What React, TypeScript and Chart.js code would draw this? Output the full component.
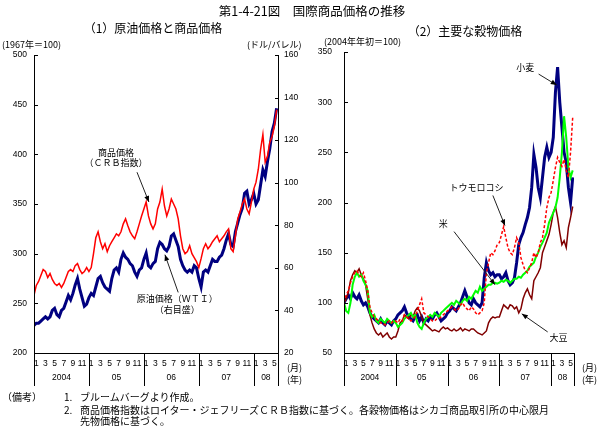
import React, { useEffect, useRef } from "react";
import { Chart, registerables } from "chart.js";

Chart.register(...registerables);

// ---------- time axis (months since Jan 2004, one reading every half month) ----------
const X_MAX = 53.3;
const YEAR_LABELS = ["2004", "05", "06", "07", "08"];
const MONTH_LABELS = ["1", "3", "5", "7", "9", "11"];

// ---------- panel (1): crude oil & commodity prices ----------
const LEFT_TICKS_1 = [200, 250, 300, 350, 400, 450, 500];
const RIGHT_TICKS_1 = [20, 40, 60, 80, 100, 120, 140, 160];

const crb = [
  258, 268, 272, 278, 284, 282, 276, 280, 274, 270, 268, 270, 266, 270, 276, 282, 284, 282, 288, 290, 284, 280, 282, 286,
  282, 286, 300, 316, 322, 312, 305, 310, 302, 308, 312, 316, 320, 318, 322, 330, 335, 328, 322, 318, 315, 322, 330, 338,
  345, 352, 338, 330, 325, 330, 345, 352, 365, 348, 338, 345, 355, 350, 345, 335, 318, 305, 300, 302, 308, 300, 296, 292,
  286, 295, 305, 310, 305, 308, 312, 315, 318, 312, 315, 318, 322, 325, 305, 302, 318, 335, 342, 350, 355, 345, 340, 352,
  365, 372, 385, 405, 420, 392, 398, 412, 418, 428, 445,
];

const wti = [
  33, 34, 34, 35, 36, 37, 36, 37, 40, 41, 38, 37, 40, 41, 44, 47, 45, 48, 52, 55, 50, 46, 42, 43,
  46, 48, 47, 51, 55, 56, 53, 51, 50, 49, 55, 59, 60, 58, 64, 67, 65, 64, 62, 61, 58, 56, 59, 60,
  64, 67, 61, 60, 62, 63, 69, 72, 71, 69, 68, 70, 75, 76, 73, 70, 64, 61, 59, 58, 59, 58, 61, 60,
  55, 51, 58, 59, 58, 61, 64, 63, 63, 65, 66, 69, 73, 76, 71, 70, 77, 81, 85, 88, 95, 96, 90, 92,
  95, 90, 92, 99, 106, 103, 110, 116, 124, 128, 135,
];

// ---------- panel (2): major grain prices (start of 2004 = 100) ----------
const LEFT_TICKS_2 = [50, 100, 150, 200, 250, 300, 350];

const wheat = [
  100, 104, 108, 104, 110, 106, 104, 108, 102, 98, 100, 96, 90, 86, 84, 82, 80, 84, 80, 78, 82, 80, 78, 82,
  84, 88, 90, 92, 96, 90, 86, 84, 82, 86, 88, 82, 86, 80, 84, 82, 86, 84, 88, 90, 86, 82, 84, 86,
  90, 92, 96, 94, 92, 96, 100, 106, 112, 106, 100, 98, 104, 100, 98, 96, 100, 125, 140, 132, 128, 130, 126, 128,
  128, 124, 126, 130, 122, 118, 120, 125, 140, 158, 165, 170, 178, 185, 195, 215, 248, 235, 215, 205, 225, 245, 255, 245,
  250, 265, 310, 335, 300, 275, 250, 240, 215, 200, 225,
];

const corn = [
  100, 108, 112, 120, 126, 130, 132, 128, 126, 130, 122, 112, 96, 90, 86, 84, 82, 80, 80, 78, 80, 82, 80, 82,
  82, 80, 84, 82, 88, 86, 84, 82, 84, 86, 92, 98, 104, 90, 88, 86, 84, 82, 82, 84, 84, 86, 88, 90,
  92, 94, 96, 94, 92, 94, 98, 100, 96, 94, 92, 96, 94, 90, 88, 90, 92, 100, 130, 140, 150, 148, 152, 158,
  160, 168, 176, 165, 155, 150, 148, 155, 165, 160, 145, 138, 132, 130, 135, 140, 150, 145, 150, 160, 165, 178, 195, 205,
  210, 222, 235, 245, 240, 236, 243, 232, 225, 250, 285,
];

const rice = [
  100, 92, 90, 100, 118, 126, 130, 126, 128, 122, 118, 112, 90, 86, 88, 82, 80, 84, 82, 80, 84, 82, 80, 82,
  80, 76, 78, 80, 84, 86, 88, 90, 86, 88, 80, 76, 74, 80, 84, 86, 88, 86, 90, 88, 86, 90, 92, 94,
  96, 98, 100, 98, 102, 100, 98, 102, 104, 102, 106, 104, 108, 112, 110, 116, 112, 114, 116, 118, 118, 120, 120, 119,
  120, 122, 121, 123, 122, 120, 122, 124, 124, 126, 125, 128, 130, 132, 136, 138, 140, 146, 150, 156, 160, 165, 170, 180,
  185, 190, 195, 205, 225, 250, 286, 265, 235, 225, 232,
];

const soybean = [
  100, 104, 110, 122, 128, 132, 130, 134, 128, 124, 118, 104, 88, 80, 74, 70, 68, 70, 66, 68, 70, 66, 64, 66,
  66, 72, 80, 82, 88, 86, 84, 88, 86, 92, 95, 92, 86, 80, 78, 76, 74, 72, 73, 72, 71, 74, 76, 74,
  75, 73, 72, 74, 72, 73, 75, 72, 74, 73, 72, 74, 74, 72, 70, 69, 68, 70, 72, 80, 84, 86, 85, 86,
  86, 92, 98, 96, 94, 98, 97, 94, 96, 90, 94, 104, 110, 114, 108, 104, 122, 126, 130, 135, 150, 156, 162, 168,
  178, 190, 196, 185, 170, 158, 162, 155, 175, 185, 196,
];

// ---------- annotations (in data units: [month, value on left axis]) ----------
type Note = { lines: string[]; at: [number, number]; step: number; arrow: [[number, number], [number, number]] };

const NOTES_1: Note[] = [
  { lines: ["商品価格", "（ＣＲＢ指数）"], at: [17.9, 402], step: 10, arrow: [[22.5, 382], [25.1, 352]] },
  { lines: ["原油価格（ＷＴＩ）", "（右目盛）"], at: [31.3, 255], step: 11, arrow: [[31.5, 261], [28.6, 299]] },
];

const NOTES_2: Note[] = [
  { lines: ["小麦"], at: [42.0, 334], step: 0, arrow: [[45.1, 328], [49.3, 317]] },
  { lines: ["トウモロコシ"], at: [30.7, 215], step: 0, arrow: [[34.5, 207], [37.3, 177]] },
  { lines: ["米"], at: [23.0, 179], step: 0, arrow: [[25.5, 171], [35.0, 118]] },
  { lines: ["大豆"], at: [49.7, 65], step: 0, arrow: [[47.2, 71], [41.2, 89]] },
];

const FONT_NUM = '8.5px "Liberation Sans", Arial, sans-serif';
const FONT_JP = '9px "Noto Sans CJK JP", sans-serif';

const toXY = (arr: number[]) => arr.map((v, i) => ({ x: i / 2, y: v }));

function vline(ctx: CanvasRenderingContext2D, x: number, y1: number, y2: number) {
  const xx = Math.round(x) + 0.5;
  ctx.beginPath();
  ctx.moveTo(xx, y1);
  ctx.lineTo(xx, y2);
  ctx.stroke();
}
function hline(ctx: CanvasRenderingContext2D, x1: number, x2: number, y: number) {
  const yy = Math.round(y) + 0.5;
  ctx.beginPath();
  ctx.moveTo(x1, yy);
  ctx.lineTo(x2, yy);
  ctx.stroke();
}

function drawArrow(ctx: CanvasRenderingContext2D, x1: number, y1: number, x2: number, y2: number) {
  ctx.beginPath();
  ctx.moveTo(x1, y1);
  ctx.lineTo(x2, y2);
  ctx.stroke();
  const ang = Math.atan2(y2 - y1, x2 - x1);
  const L = 6;
  const W = 2.5;
  const bx = x2 - L * Math.cos(ang);
  const by = y2 - L * Math.sin(ang);
  ctx.beginPath();
  ctx.moveTo(x2, y2);
  ctx.lineTo(bx + W * Math.sin(ang), by - W * Math.cos(ang));
  ctx.lineTo(bx - W * Math.sin(ang), by + W * Math.cos(ang));
  ctx.closePath();
  ctx.fill();
}

function drawTimeAxis(chart: any, unitX: number) {
  const ctx: CanvasRenderingContext2D = chart.ctx;
  const a = chart.chartArea;
  const xs = chart.scales.x;
  const bottom = a.bottom + 33;
  hline(ctx, a.left, a.right + 1, a.bottom);
  for (let k = 0; k < YEAR_LABELS.length; k++) {
    vline(ctx, xs.getPixelForValue(12 * k), a.bottom, bottom);
  }
  vline(ctx, a.right, a.bottom, bottom);
  ctx.font = FONT_NUM;
  ctx.textBaseline = "middle";
  ctx.textAlign = "center";
  for (let k = 0; k < YEAR_LABELS.length; k++) {
    MONTH_LABELS.forEach((lab, j) => {
      const v = 12 * k + 2 * j + 0.5;
      if (v < X_MAX) ctx.fillText(lab, xs.getPixelForValue(v), a.bottom + 11);
    });
    const x0 = xs.getPixelForValue(12 * k);
    const x1 = xs.getPixelForValue(Math.min(12 * k + 12, X_MAX));
    ctx.fillText(YEAR_LABELS[k], (x0 + x1) / 2, a.bottom + 25);
  }
  ctx.font = FONT_JP;
  ctx.textAlign = "left";
  ctx.fillText("(月)", a.right + unitX, a.bottom + 15);
  ctx.fillText("(年)", a.right + unitX, a.bottom + 27);
}

function drawNotes(chart: any, notes: Note[], yId: string) {
  const ctx: CanvasRenderingContext2D = chart.ctx;
  const xs = chart.scales.x;
  const ys = chart.scales[yId];
  ctx.font = FONT_JP;
  ctx.textAlign = "center";
  ctx.textBaseline = "middle";
  ctx.fillStyle = "#000";
  ctx.strokeStyle = "#222";
  ctx.lineWidth = 1;
  notes.forEach((n) => {
    n.lines.forEach((t, i) => {
      ctx.fillText(t, xs.getPixelForValue(n.at[0]), ys.getPixelForValue(n.at[1]) + i * n.step);
    });
    const [p, q] = n.arrow;
    drawArrow(
      ctx,
      xs.getPixelForValue(p[0]),
      ys.getPixelForValue(p[1]),
      xs.getPixelForValue(q[0]),
      ys.getPixelForValue(q[1])
    );
  });
}

const framePlugin1 = {
  id: "frame1",
  afterDraw(chart: any) {
    const ctx: CanvasRenderingContext2D = chart.ctx;
    const a = chart.chartArea;
    const yL = chart.scales.yL;
    const yR = chart.scales.yR;
    ctx.save();
    ctx.strokeStyle = "#000";
    ctx.fillStyle = "#000";
    ctx.lineWidth = 1;
    vline(ctx, a.left, a.top, a.bottom);
    vline(ctx, a.right, a.top, a.bottom);
    ctx.font = FONT_NUM;
    ctx.textBaseline = "middle";
    ctx.textAlign = "right";
    LEFT_TICKS_1.forEach((v) => {
      const y = yL.getPixelForValue(v);
      hline(ctx, a.left, a.left + 4, y);
      ctx.fillText(String(v), a.left - 7, y);
    });
    ctx.textAlign = "left";
    RIGHT_TICKS_1.forEach((v) => {
      const y = yR.getPixelForValue(v);
      hline(ctx, a.right - 3, a.right + 1, y);
      ctx.fillText(String(v), a.right + 6, y);
    });
    ctx.font = FONT_JP;
    ctx.fillText("(1967年＝100)", 2, 45);
    ctx.fillText("(ドル/バレル)", 247, 45);
    drawTimeAxis(chart, 9);
    drawNotes(chart, NOTES_1, "yL");
    ctx.restore();
  },
};

const framePlugin2 = {
  id: "frame2",
  afterDraw(chart: any) {
    const ctx: CanvasRenderingContext2D = chart.ctx;
    const a = chart.chartArea;
    const y = chart.scales.y;
    ctx.save();
    ctx.strokeStyle = "#000";
    ctx.fillStyle = "#000";
    ctx.lineWidth = 1;
    vline(ctx, a.left, a.top, a.bottom);
    ctx.font = FONT_NUM;
    ctx.textBaseline = "middle";
    ctx.textAlign = "right";
    LEFT_TICKS_2.forEach((v) => {
      const yy = y.getPixelForValue(v);
      hline(ctx, a.left, a.left + 4, yy);
      ctx.fillText(String(v), a.left - 12, yy);
    });
    ctx.font = FONT_JP;
    ctx.textAlign = "left";
    ctx.fillText("(2004年年初＝100)", 324, 42);
    drawTimeAxis(chart, 8);
    drawNotes(chart, NOTES_2, "y");
    ctx.restore();
  },
};

const line = (label: string, data: number[], color: string, width: number, yAxisID: string, extra: any = {}) => ({
  label,
  data: toXY(data),
  yAxisID,
  borderColor: color,
  backgroundColor: color,
  borderWidth: width,
  pointRadius: 0,
  tension: 0,
  fill: false,
  ...extra,
});

const baseOptions = (padding: any, scales: any) => ({
  responsive: false,
  animation: false as const,
  events: [] as any[],
  layout: { padding },
  plugins: { legend: { display: false }, tooltip: { enabled: false }, title: { display: false } },
  scales,
});

export default function App() {
  const c1 = useRef<HTMLCanvasElement>(null);
  const c2 = useRef<HTMLCanvasElement>(null);

  useEffect(() => {
    const ch1 = new Chart(c1.current!, {
      type: "line",
      data: {
        datasets: [
          line("商品価格（ＣＲＢ指数）", crb, "#ff0000", 1.5, "yL"),
          line("原油価格（ＷＴＩ）", wti, "#000080", 3, "yR"),
        ],
      },
      options: baseOptions(
        { left: 34, top: 55, right: 326, bottom: 89 },
        {
          x: { type: "linear", min: 0, max: X_MAX, display: false },
          yL: { type: "linear", min: 200, max: 500, display: false },
          yR: { type: "linear", min: 20, max: 160, display: false, position: "right" },
        }
      ) as any,
      plugins: [framePlugin1],
    });

    const ch2 = new Chart(c2.current!, {
      type: "line",
      data: {
        datasets: [
          line("トウモロコシ", corn, "#ff0000", 1.5, "y", { borderDash: [3, 2] }),
          line("米", rice, "#00ff00", 2, "y"),
          line("大豆", soybean, "#800000", 1.5, "y"),
          line("小麦", wheat, "#000080", 3, "y"),
        ],
      },
      options: baseOptions(
        { left: 344, top: 52, right: 30, bottom: 89 },
        {
          x: { type: "linear", min: 0, max: X_MAX, display: false },
          y: { type: "linear", min: 50, max: 350, display: false },
        }
      ) as any,
      plugins: [framePlugin2],
    });

    return () => {
      ch1.destroy();
      ch2.destroy();
    };
  }, []);

  const jp = "'Noto Sans CJK JP', sans-serif";
  const center = (x: number, y: number, size: number): React.CSSProperties => ({
    position: "absolute",
    left: x,
    top: y,
    transform: "translate(-50%, -50%)",
    whiteSpace: "nowrap",
    fontSize: size,
    lineHeight: 1,
  });
  const leftAt = (x: number, y: number, size: number): React.CSSProperties => ({
    position: "absolute",
    left: x,
    top: y,
    transform: "translateY(-50%)",
    whiteSpace: "nowrap",
    fontSize: size,
    lineHeight: 1,
  });

  return (
    <div
      style={{
        position: "fixed",
        left: 0,
        top: 0,
        width: 604,
        height: 442,
        background: "#fff",
        color: "#000",
        fontFamily: jp,
        overflow: "hidden",
      }}
    >
      <canvas ref={c1} width={604} height={442} style={{ position: "absolute", left: 0, top: 0, width: 604, height: 442 }} />
      <canvas ref={c2} width={604} height={442} style={{ position: "absolute", left: 0, top: 0, width: 604, height: 442 }} />
      <div style={center(312, 11, 12.5)}>第1-4-21図　国際商品価格の推移</div>
      <div style={center(153, 28, 12)}>（1）原油価格と商品価格</div>
      <div style={center(465, 31, 12)}>（2）主要な穀物価格</div>
      <div style={leftAt(2, 397, 10)}>（備考）</div>
      <div style={leftAt(64, 397, 10)}>1.</div>
      <div style={leftAt(80, 397, 10)}>ブルームバーグより作成。</div>
      <div style={leftAt(64, 410, 10)}>2.</div>
      <div style={leftAt(80, 410, 10)}>
        商品価格指数はロイター・ジェフリーズＣＲＢ指数に基づく。各穀物価格はシカゴ商品取引所の中心限月
      </div>
      <div style={leftAt(80, 421, 10)}>先物価格に基づく。</div>
    </div>
  );
}
